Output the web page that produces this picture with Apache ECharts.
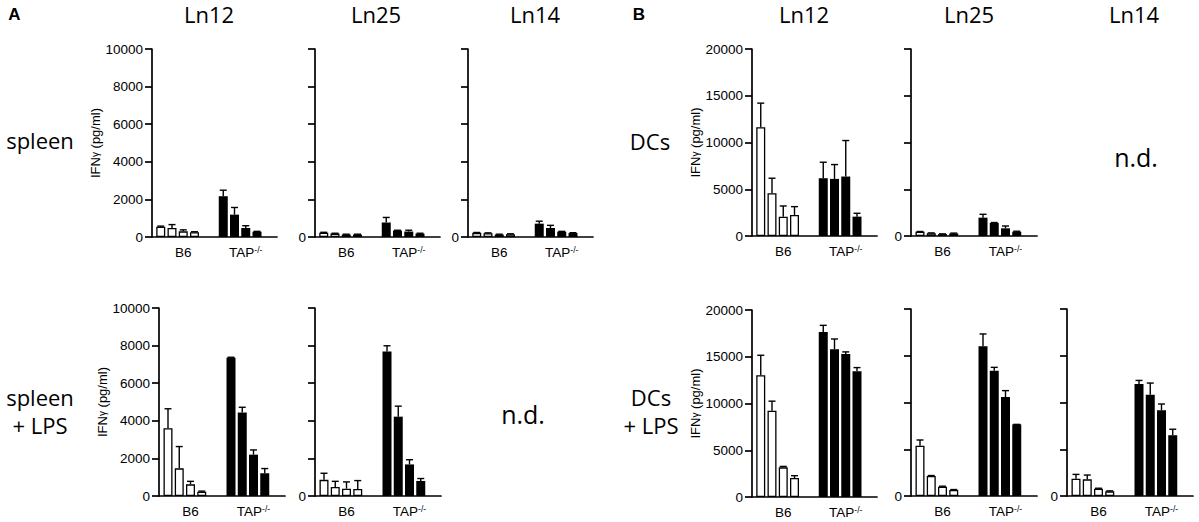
<!DOCTYPE html>
<html>
<head>
<meta charset="utf-8">
<script src="https://cdn.jsdelivr.net/npm/echarts@6/dist/echarts.min.js"></script>
<style>
  html, body { margin: 0; background: #fff; }
  #main { width: 1199px; height: 522px; }
</style>
</head>
<body>
<div id="main"></div>
<script>
// categories on every x axis
var groups = ['B6', 'TAP-/-'];

// IFNγ (pg/ml), four bars per group: [B6 bars], [TAP-/- bars]
var spleenLn12 = [[550, 480, 300, 250], [2170, 1190, 480, 280]];
var spleenLn12Err = [[30, 180, 80, 30], [320, 380, 120, 20]];
var spleenLn25 = [[230, 180, 130, 130], [770, 340, 290, 180]];
var spleenLn25Err = [[20, 20, 20, 20], [270, 20, 70, 20]];
var spleenLn14 = [[220, 200, 130, 150], [710, 480, 280, 210]];
var spleenLn14Err = [[20, 20, 20, 20], [130, 140, 20, 20]];

var spleenLpsLn12 = [[3600, 1470, 620, 230], [7350, 4440, 2200, 1210]];
var spleenLpsLn12Err = [[1040, 1160, 160, 30], [30, 280, 250, 250]];
var spleenLpsLn25 = [[860, 480, 390, 370], [7680, 4220, 1680, 800]];
var spleenLpsLn25Err = [[350, 300, 360, 450], [310, 560, 250, 130]];

var dcLn12 = [[11640, 4570, 2070, 2250], [6180, 6110, 6360, 2070]];
var dcLn12Err = [[2570, 1610, 1140, 890], [1710, 1530, 3850, 360]];
var dcLn25 = [[450, 300, 200, 280], [1960, 1390, 820, 460]];
var dcLn25Err = [[30, 30, 30, 30], [360, 50, 250, 50]];

var dcLpsLn12 = [[13020, 9220, 3170, 2030], [17650, 15800, 15300, 13450]];
var dcLpsLn12Err = [[2140, 1030, 100, 250], [710, 1100, 220, 390]];
var dcLpsLn25 = [[5380, 2140, 1000, 640], [16010, 13400, 10590, 7660]];
var dcLpsLn25Err = [[610, 50, 50, 50], [1320, 360, 680, 0]];
var dcLpsLn14 = [[1850, 1780, 780, 500], [11970, 10830, 9170, 6500]];
var dcLpsLn14Err = [[460, 460, 50, 50], [390, 1250, 670, 640]];

// where each small chart sits
var panels = [
    { mean: spleenLn12, err: spleenLn12Err, box: [152, 49, 125, 188], max: 10000, step: 2000, labels: true },
    { mean: spleenLn25, err: spleenLn25Err, box: [315, 49, 125, 188], max: 10000, step: 2000, labels: false },
    { mean: spleenLn14, err: spleenLn14Err, box: [468, 49, 125, 188], max: 10000, step: 2000, labels: false },
    { mean: spleenLpsLn12, err: spleenLpsLn12Err, box: [159, 308, 126, 188], max: 10000, step: 2000, labels: true },
    { mean: spleenLpsLn25, err: spleenLpsLn25Err, box: [315, 308, 126, 188], max: 10000, step: 2000, labels: false },
    { mean: dcLn12, err: dcLn12Err, box: [752, 49, 125, 187], max: 20000, step: 5000, labels: true },
    { mean: dcLn25, err: dcLn25Err, box: [911, 49, 126, 187], max: 20000, step: 5000, labels: false },
    { mean: dcLpsLn12, err: dcLpsLn12Err, box: [752, 310, 125, 187], max: 20000, step: 5000, labels: true },
    { mean: dcLpsLn25, err: dcLpsLn25Err, box: [911, 309, 126, 187], max: 20000, step: 5000, labels: false },
    { mean: dcLpsLn14, err: dcLpsLn14Err, box: [1067, 309, 126, 187], max: 20000, step: 5000, labels: false }
];

var axisFont = '"Liberation Sans", Arial, sans-serif';
var bigFont = '"Open Sans", sans-serif';
var barWidth = 9;
var barGap = 0.25;
var pitch = barWidth * (1 + barGap);

var grids = [], xAxes = [], yAxes = [], series = [];

panels.forEach(function (p, k) {
    grids.push({ left: p.box[0], top: p.box[1], width: p.box[2], height: p.box[3] });
    xAxes.push({
        type: 'category',
        gridIndex: k,
        data: groups,
        axisLine: { lineStyle: { color: '#000', width: 1.7 } },
        axisTick: { alignWithLabel: true, length: 6, lineStyle: { color: '#000', width: 1.7 } },
        axisLabel: {
            margin: 8,
            interval: 0,
            hideOverlap: false,
            formatter: function (v) { return v === 'TAP-/-' ? '{n|TAP}{s|-/-}' : '{n|' + v + '}'; },
            rich: {
                n: { fontSize: 13.5, color: '#000', fontFamily: axisFont },
                s: { fontSize: 8.5, color: '#000', fontFamily: axisFont, verticalAlign: 'top' }
            }
        }
    });
    yAxes.push({
        type: 'value',
        gridIndex: k,
        min: 0,
        max: p.max,
        interval: p.step,
        axisLine: { show: true, lineStyle: { color: '#000', width: 1.7 } },
        axisTick: { show: true, length: 7, lineStyle: { color: '#000', width: 1.7 } },
        splitLine: { show: false },
        axisLabel: {
            margin: 9,
            fontSize: 13.5,
            color: '#000',
            fontFamily: axisFont,
            formatter: p.labels ? function (v) { return String(v); } : function (v) { return v === 0 ? '0' : ''; }
        },
        name: p.labels ? '{a|IFN}{g|γ}{a| (pg/ml)}' : '',
        nameLocation: 'middle',
        nameGap: 50,
        nameRotate: 90,
        nameTextStyle: {
            rich: {
                a: { fontSize: 13, color: '#000', fontFamily: axisFont },
                g: { fontSize: 10, color: '#000', fontFamily: axisFont }
            }
        }
    });

    for (var i = 0; i < 4; i++) {
        series.push({
            type: 'bar',
            xAxisIndex: k,
            yAxisIndex: k,
            barWidth: barWidth,
            barGap: (barGap * 100) + '%',
            silent: true,
            data: [
                { value: p.mean[0][i], itemStyle: { color: '#fff', borderColor: '#000', borderWidth: 1.3 } },
                { value: p.mean[1][i], itemStyle: { color: '#000' } }
            ]
        });
    }
    // empty slot so each group sits a little left of its tick, as in the figure
    series.push({ type: 'bar', xAxisIndex: k, yAxisIndex: k, barWidth: barWidth, barGap: (barGap * 100) + '%', data: ['-', '-'] });

    var errData = [];
    for (var g = 0; g < 2; g++) {
        for (var j = 0; j < 4; j++) {
            errData.push([g, j, p.mean[g][j], p.err[g][j]]);
        }
    }
    series.push({
        type: 'custom',
        xAxisIndex: k,
        yAxisIndex: k,
        silent: true,
        z: 5,
        encode: { x: 0, y: 2 },
        data: errData,
        renderItem: function (params, api) {
            var base = api.coord([api.value(0), api.value(2)]);
            var top = api.coord([api.value(0), api.value(2) + api.value(3)]);
            var x = base[0] + (api.value(1) - 2) * pitch;
            var st = { stroke: '#000', lineWidth: 1.4 };
            return {
                type: 'group',
                children: [
                    { type: 'line', shape: { x1: x, y1: base[1], x2: x, y2: top[1] }, style: st },
                    { type: 'line', shape: { x1: x - 3.5, y1: top[1], x2: x + 3.5, y2: top[1] }, style: st }
                ]
            };
        }
    });
});

function label(text, x, y, size, extra) {
    var s = { text: text, fontSize: size, fontFamily: bigFont, fill: '#000', align: 'center', verticalAlign: 'middle' };
    for (var key in extra) s[key] = extra[key];
    return { type: 'text', x: x, y: y, style: s, silent: true };
}

var texts = [
    label('A', 14.5, 14.5, 17, { fontFamily: axisFont, fontWeight: 'bold' }),
    label('B', 639, 14.5, 17, { fontFamily: axisFont, fontWeight: 'bold' }),
    label('Ln12', 209, 14, 22),
    label('Ln25', 376, 14, 22),
    label('Ln14', 535, 14, 22),
    label('Ln12', 804, 14, 22),
    label('Ln25', 969, 14, 22),
    label('Ln14', 1134, 14, 22),
    label('spleen', 40, 140, 22),
    label('spleen\n+ LPS', 40, 411, 22, { lineHeight: 28 }),
    label('DCs', 650, 141, 22),
    label('DCs\n+ LPS', 651, 411, 22, { lineHeight: 28 }),
    label('n.d.', 523, 414, 25),
    label('n.d.', 1136, 157, 25)
];

var chart = echarts.init(document.getElementById('main'), null, { renderer: 'svg' });
chart.setOption({
    animation: false,
    backgroundColor: '#fff',
    grid: grids,
    xAxis: xAxes,
    yAxis: yAxes,
    series: series,
    graphic: texts
});
</script>
</body>
</html>
